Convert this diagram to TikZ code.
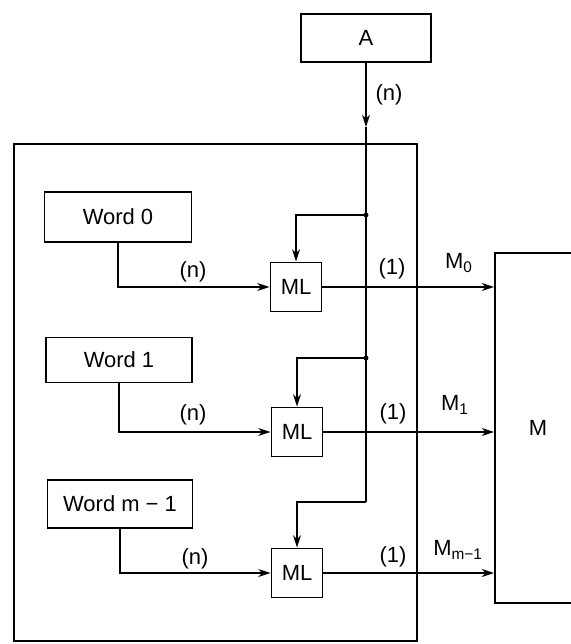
\documentclass[tikz,border=0pt]{standalone}
\usepackage{fontspec}
\setmainfont{Liberation Sans}
\usetikzlibrary{arrows.meta,positioning,calc}

\begin{document}
\begin{tikzpicture}[x=0.02cm,y=-0.02cm,line width=0.9pt,
    >={Stealth[length=7pt,width=4.5pt]},
    box/.style={draw,line width=1.1pt,inner sep=0pt,font=\fontsize{12.5}{14}\selectfont},
    mlbox/.style={box,minimum width=1.02cm,minimum height=0.98cm},
    lbl/.style={inner sep=1pt,font=\fontsize{12.5}{14}\selectfont}]
  \useasboundingbox (0,0) rectangle (570,644);
  % frame round the words
  \draw[line width=1.1pt] (14,144) rectangle (417,641);
  \node[box,minimum width=2.6cm,minimum height=0.96cm] (A) at (366,38) {A};
  \node[box,minimum width=2.94cm,minimum height=1.0cm] (w0) at (118,217) {Word 0};
  \node[box,minimum width=2.92cm,minimum height=0.9cm] (w1) at (119,360) {Word 1};
  \node[box,minimum width=2.9cm,minimum height=0.96cm] (w2) at (120,504) {Word m − 1};
  \node[mlbox] (ml0) at (296,287) {ML};
  \node[mlbox] (ml1) at (297,432) {ML};
  \node[mlbox] (ml2) at (297,573) {ML};
  \node[box,minimum width=1.72cm,minimum height=7.0cm] (M) at (538,428) {M};
  % bus from A
  \coordinate (a1) at (366,127);
  \coordinate (j0) at (366,215);
  \coordinate (j1) at (366,358);
  \coordinate (j2) at (366,502);
  \draw[->] (A.south) -- (a1);
  \draw (a1) -- (j2);
  \fill (j0) circle (1.4pt);
  \fill (j1) circle (1.4pt);
  \draw[->] (j0) -| (ml0.north);
  \draw[->] (j1) -| (ml1.north);
  \draw[->] (j2) -| (ml2.north);
  % words into the match logic
  \draw[->] (w0.south) |- (ml0.west);
  \draw[->] (w1.south) |- (ml1.west);
  \draw[->] (w2.south) |- (ml2.west);
  % match outputs
  \draw[->] (ml0.east) -- (ml0.east -| M.west);
  \draw[->] (ml1.east) -- (ml1.east -| M.west);
  \draw[->] (ml2.east) -- (ml2.east -| M.west);
  \node[lbl] (na) at (389,95) {(n)};
  \node[lbl] (n0) at (193,272) {(n)};
  \node[lbl] (n1) at (193,415) {(n)};
  \node[lbl] (n2) at (195,559) {(n)};
  \node[lbl] (o0) at (392,269) {(1)};
  \node[lbl] (o1) at (393,414) {(1)};
  \node[lbl] (o2) at (393,557) {(1)};
  \node[lbl] (m0) at (459,263) {M\textsubscript{0}};
  \node[lbl] (m1) at (455,405) {M\textsubscript{1}};
  \node[lbl] (m2) at (458,550) {M\textsubscript{m−1}};
\end{tikzpicture}
\end{document}
